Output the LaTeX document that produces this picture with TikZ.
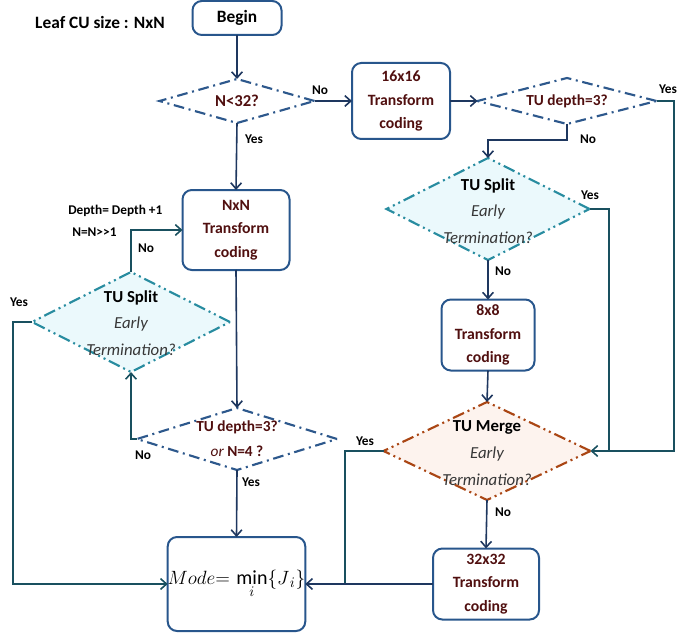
\documentclass[tikz,border=0pt]{standalone}
\usepackage{fontspec}
\setmainfont{Carlito}
\usetikzlibrary{shapes.geometric,arrows.meta}
\definecolor{boxblue}{RGB}{40,86,140}
\definecolor{diablue}{RGB}{45,88,140}
\definecolor{tealline}{RGB}{40,140,160}
\definecolor{tealfill}{RGB}{235,249,252}
\definecolor{brownline}{RGB}{170,70,20}
\definecolor{brownfill}{RGB}{253,243,238}
\definecolor{navy}{RGB}{30,55,95}
\definecolor{darkteal}{RGB}{25,80,95}
\definecolor{maroon}{RGB}{80,15,15}
\definecolor{termgray}{RGB}{55,55,55}
\begin{document}
\begin{tikzpicture}[x=0.75pt,y=-0.75pt,
  box/.style={draw=boxblue, line width=1.5pt, rounded corners=7pt, fill=white,
    inner sep=0pt, outer sep=0pt, align=center, text=maroon,
    font=\bfseries\fontsize{11.8}{17.6}\selectfont},
  bluedia/.style={diamond, draw=diablue, fill=white, line width=1.6pt,
    dash pattern=on 8pt off 3.5pt on 1.5pt off 3.5pt, inner sep=0pt, outer sep=0pt},
  tealdia/.style={diamond, draw=tealline, fill=tealfill, line width=1.6pt,
    dash pattern=on 9pt off 3pt on 1.5pt off 3pt on 1.5pt off 3pt, inner sep=0pt, outer sep=0pt},
  browndia/.style={diamond, draw=brownline, fill=brownfill, line width=1.6pt,
    dash pattern=on 9pt off 3pt on 1.5pt off 3pt on 1.5pt off 3pt, inner sep=0pt, outer sep=0pt},
  qtext/.style={align=center, text=maroon, font=\bfseries\fontsize{11.5}{18.5}\selectfont, inner sep=0pt},
  ettext/.style={align=center, font=\fontsize{12.6}{20}\selectfont, inner sep=0pt},
  conn/.style={draw=navy, line width=1.2pt},
  arr/.style={-{Straight Barb[length=4.5pt,width=8pt]}},
  tconn/.style={draw=darkteal, line width=1.2pt},
  lbl/.style={font=\bfseries\fontsize{10}{12}\selectfont, inner sep=0pt}
]
\useasboundingbox (0,0) rectangle (697,635);

% title
\node[font=\bfseries\fontsize{13}{15}\selectfont, inner sep=0pt] (leaf) at (100,22) {Leaf CU size : NxN};

% boxes
\node[box, minimum width=66.75pt, minimum height=25.5pt, text=black,
  font=\bfseries\fontsize{13}{15}\selectfont] (begin) at (237,18) {Begin};
\node[box, minimum width=80.25pt, minimum height=60pt] (nxn) at (236,230) {NxN\\Transform\\coding};
\node[box, minimum width=73.5pt, minimum height=57pt] (b16) at (401,101) {16x16\\Transform\\coding};
\node[box, minimum width=69.75pt, minimum height=53.25pt] (b8) at (488,335) {8x8\\Transform\\coding};
\node[box, minimum width=79.5pt, minimum height=53.25pt] (b32) at (486,584) {32x32\\Transform\\coding};
\node[box, minimum width=102.75pt, minimum height=70.5pt, text=black,
  font=\fontsize{15}{18}\selectfont] (mode) at (236.5,584) {$Mode{=}\,\min\limits_{i}\{J_{\,i}\}$};

% diamonds
\node[bluedia, minimum width=116.25pt, minimum height=33pt] (n32) at (237,101) {};
\node[qtext, font=\bfseries\fontsize{12.5}{15}\selectfont] (n32t) at (n32) {N<32?};
\node[bluedia, minimum width=134.25pt, minimum height=34.5pt] (td2) at (567,101) {};
\node[qtext] (td2t) at (td2) {TU depth=3?};
\node[bluedia, minimum width=150pt, minimum height=46.5pt] (td1) at (237,439) {};
\node[qtext] (td1t) at (td1) {TU depth=3?\\{\mdseries\itshape or} N=4 ?};

\node[tealdia, minimum width=148.5pt, minimum height=75pt] (ts1) at (131,322) {};
\node[ettext] (ts1t) at (131,323) {{\bfseries TU Split}\\{\itshape\color{termgray}Early}\\{\itshape\color{termgray}Termination?}};
\node[tealdia, minimum width=152.25pt, minimum height=76.5pt] (ts2) at (488,209) {};
\node[ettext] (ts2t) at (488,211) {{\bfseries TU Split}\\{\itshape\color{termgray}Early}\\{\itshape\color{termgray}Termination?}};
\node[browndia, minimum width=155.25pt, minimum height=73.5pt] (tm) at (487,451) {};
\node[ettext] (tmt) at (487,453) {{\bfseries TU Merge}\\{\itshape\color{termgray}Early}\\{\itshape\color{termgray}Termination?}};

% coordinates for bends / joins
\coordinate (c5) at (674,451);
\coordinate (j1) at (609,451);
\coordinate (j2) at (345,584);
\coordinate (c6) at (488,140);
\coordinate (c17) at (13,584);

% connectors
\draw[conn,arr] (begin.south) -- (n32.north);
\draw[conn,arr] (n32.east) -- (b16.west);
\draw[conn,arr] (n32.south) -- (nxn.north);
\draw[conn,arr] (b16.east) -- (td2.west);
\draw[tconn,arr] (td2.east) -| (c5) -- (tm.east);
\draw[conn,arr] (td2.south) |- (c6) -- (ts2.north);
\draw[tconn] (ts2.east) -| (j1);
\draw[conn,arr] (ts2.south) -- (b8.north);
\draw[conn,arr] (b8.south) -- (tm.north);
\draw[conn,arr] (tm.south) -- (b32.north);
\draw[tconn] (tm.west) -| (j2);
\draw[conn,arr] (b32.west) -- (mode.east);
\draw[conn,arr] (nxn.south) -- (td1.north);
\draw[conn,arr] (td1.south) -- (mode.north);
\draw[tconn,arr] (td1.west) -| (ts1.south);
\draw[tconn,arr] (ts1.north) |- (nxn.west);
\draw[tconn,arr] (ts1.west) -| (c17) -- (mode.west);

% labels
\node[lbl] (l1) at (320,90) {No};
\node[lbl] (l2) at (254,139) {Yes};
\node[lbl, anchor=west] (l3) at (68,211) {Depth= Depth +1};
\node[lbl, anchor=west] (l4) at (72,232) {N=N>{}>1};
\node[lbl] (l5) at (146,248) {No};
\node[lbl] (l6) at (19,302) {Yes};
\node[lbl] (l7) at (143,455) {No};
\node[lbl] (l8) at (251,482) {Yes};
\node[lbl] (l9) at (668,89) {Yes};
\node[lbl] (l10) at (588,139) {No};
\node[lbl] (l11) at (590,195) {Yes};
\node[lbl] (l12) at (503,271) {No};
\node[lbl] (l13) at (365,441) {Yes};
\node[lbl] (l14) at (503,512) {No};
\end{tikzpicture}
\end{document}
